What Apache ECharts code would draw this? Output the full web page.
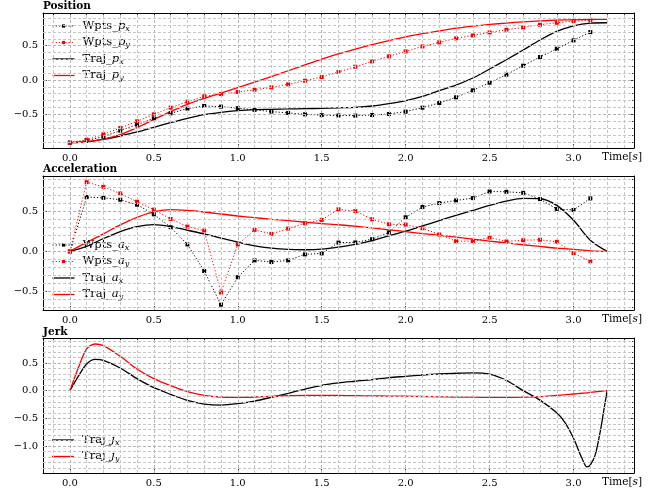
<!DOCTYPE html>
<html>
<head>
<meta charset="utf-8">
<script src="https://cdn.jsdelivr.net/npm/echarts@6/dist/echarts.min.js"></script>
<style>
  html, body { margin: 0; padding: 0; background: #fff; }
  #chart { width: 667px; height: 489px; }
</style>
</head>
<body>
<div id="chart"></div>
<script>
// waypoint times (s) and trajectory sample times
const tWpts = [0, 0.1, 0.2, 0.3, 0.4, 0.5, 0.6, 0.7, 0.8, 0.9, 1.0, 1.1, 1.2, 1.3, 1.4, 1.5,
  1.6, 1.7, 1.8, 1.9, 2.0, 2.1, 2.2, 2.3, 2.4, 2.5, 2.6, 2.7, 2.8, 2.9, 3.0, 3.1];
const tTraj = [0, 0.1, 0.2, 0.3, 0.4, 0.5, 0.6, 0.7, 0.8, 0.9, 1.0, 1.1, 1.2, 1.3, 1.4, 1.5,
  1.6, 1.7, 1.8, 1.9, 2.0, 2.1, 2.2, 2.3, 2.4, 2.5, 2.6, 2.7, 2.8, 2.9, 3.0, 3.1, 3.2];
const tJerk = [0, 0.05, 0.1, 0.15, 0.2, 0.3, 0.4, 0.5, 0.6, 0.7, 0.8, 0.9, 1.0, 1.1, 1.2, 1.3,
  1.4, 1.5, 1.6, 1.7, 1.8, 1.9, 2.0, 2.1, 2.2, 2.3, 2.4, 2.5, 2.6, 2.7, 2.8, 2.9, 2.95, 3.0,
  3.05, 3.08, 3.1, 3.13, 3.16, 3.18, 3.2];

// Position
const wptsPx = [-0.913, -0.883, -0.825, -0.738, -0.650, -0.558, -0.485, -0.417, -0.379, -0.388,
  -0.41, -0.435, -0.46, -0.48, -0.50, -0.512, -0.517, -0.519, -0.510, -0.495, -0.461, -0.403,
  -0.335, -0.252, -0.150, -0.039, 0.078, 0.209, 0.335, 0.456, 0.578, 0.699];
const wptsPy = [-0.913, -0.869, -0.791, -0.699, -0.602, -0.500, -0.403, -0.316, -0.238, -0.204,
  -0.175, -0.141, -0.107, -0.063, -0.010, 0.044, 0.117, 0.194, 0.272, 0.345, 0.417, 0.490,
  0.549, 0.607, 0.650, 0.694, 0.733, 0.767, 0.806, 0.835, 0.859, 0.869];
const trajPx = [-0.913, -0.903, -0.864, -0.816, -0.757, -0.689, -0.621, -0.558, -0.505, -0.471,
  -0.447, -0.432, -0.427, -0.422, -0.417, -0.413, -0.405, -0.398, -0.379, -0.345, -0.301,
  -0.238, -0.155, -0.073, 0.029, 0.160, 0.296, 0.437, 0.583, 0.709, 0.791, 0.830, 0.835];
const trajPy = [-0.913, -0.90, -0.862, -0.796, -0.694, -0.575, -0.46, -0.355, -0.268, -0.19,
  -0.11, -0.03, 0.05, 0.135, 0.22, 0.305, 0.38, 0.45, 0.515, 0.575, 0.63, 0.675, 0.715, 0.755,
  0.785, 0.81, 0.83, 0.848, 0.862, 0.872, 0.878, 0.882, 0.884];

// Acceleration
const wptsAx = [0, 0.678, 0.669, 0.645, 0.583, 0.463, 0.302, 0.087, -0.244, -0.665, -0.322,
  -0.112, -0.132, -0.112, -0.037, -0.025, 0.110, 0.112, 0.153, 0.236, 0.426, 0.554, 0.603,
  0.636, 0.665, 0.748, 0.744, 0.731, 0.653, 0.529, 0.517, 0.661];
const wptsAy = [0, 0.864, 0.806, 0.723, 0.620, 0.521, 0.405, 0.310, 0.260, -0.512, 0.087,
  0.269, 0.219, 0.285, 0.351, 0.393, 0.525, 0.504, 0.401, 0.339, 0.335, 0.289, 0.211, 0.128,
  0.128, 0.174, 0.124, 0.140, 0.145, 0.120, -0.021, -0.124];
const trajAx = [0, 0.062, 0.161, 0.248, 0.31, 0.335, 0.31, 0.264, 0.219, 0.165, 0.116, 0.07,
  0.041, 0.025, 0.021, 0.029, 0.054, 0.087, 0.136, 0.194, 0.252, 0.318, 0.384, 0.450, 0.512,
  0.574, 0.628, 0.661, 0.657, 0.574, 0.388, 0.14, 0];
const trajAy = [0, 0.112, 0.219, 0.331, 0.426, 0.492, 0.521, 0.512, 0.492, 0.467, 0.442, 0.421,
  0.401, 0.384, 0.364, 0.347, 0.333, 0.314, 0.293, 0.269, 0.248, 0.223, 0.202, 0.178, 0.153,
  0.128, 0.107, 0.083, 0.062, 0.041, 0.025, 0.008, 0];

// Jerk
const trajJx = [0, 0.259, 0.482, 0.566, 0.548, 0.41, 0.217, 0.054, -0.066, -0.175, -0.241,
  -0.259, -0.235, -0.187, -0.12, -0.048, 0.03, 0.096, 0.14, 0.17, 0.199, 0.235, 0.259, 0.283,
  0.301, 0.315, 0.322, 0.30, 0.187, 0.0, -0.17, -0.40, -0.58, -0.86, -1.22, -1.375, -1.34,
  -1.15, -0.72, -0.36, 0];
const trajJy = [0, 0.41, 0.753, 0.843, 0.813, 0.62, 0.392, 0.217, 0.09, -0.018, -0.084, -0.114,
  -0.12, -0.114, -0.102, -0.09, -0.084, -0.084, -0.086, -0.09, -0.094, -0.098, -0.10, -0.105,
  -0.11, -0.115, -0.118, -0.12, -0.12, -0.116, -0.108, -0.084, -0.073, -0.06, -0.046, -0.038,
  -0.03, -0.02, -0.01, -0.003, 0.005];

// axis ticks
const xMajor = [0, 0.5, 1.0, 1.5, 2.0, 2.5, 3.0];
const yMajorPos = [-0.5, 0, 0.5];
const yMajorAcc = [-0.5, 0, 0.5];
const yMajorJerk = [-1.0, -0.5, 0, 0.5];

const FONT = 'DejaVu Serif';
const X_MIN = -0.16, X_MAX = 3.36;

function minorsBetween(lo, hi, majors) {
  const out = [];
  for (let k = Math.ceil(lo * 10); k <= Math.floor(hi * 10); k++) {
    const v = k / 10;
    if (!majors.some(m => Math.abs(m - v) < 1e-6)) out.push(v);
  }
  return out;
}

function fmt(v) {
  return (v < 0 ? '\u2212' : '') + Math.abs(v).toFixed(1);
}

function tickStyle() { return { color: '#000', width: 0.8 }; }

function xAxesFor(g) {
  const minors = minorsBetween(X_MIN, X_MAX, xMajor);
  const base = () => ({
    type: 'value', gridIndex: g, min: X_MIN, max: X_MAX,
    axisLine: { show: true, onZero: false, lineStyle: { color: '#000', width: 1 } },
    axisLabel: { show: false }, splitLine: { show: false }
  });
  return [
    Object.assign(base(), {
      position: 'bottom',
      axisTick: { show: true, inside: true, length: 4, customValues: xMajor, lineStyle: tickStyle() },
      axisLabel: {
        show: true, customValues: xMajor, margin: 5, color: '#000',
        fontFamily: FONT, fontSize: 10, formatter: fmt
      },
      name: '{a|Time[}{b|s}{a|]}', nameLocation: 'end', nameGap: -12, nameMoveOverlap: false,
      nameTextStyle: {
        align: 'center', verticalAlign: 'top', padding: [4, 0, 0, 0],
        rich: {
          a: { fontFamily: FONT, fontSize: 10.5, color: '#000' },
          b: { fontFamily: FONT, fontSize: 10.5, fontStyle: 'italic', color: '#000' }
        }
      }
    }),
    Object.assign(base(), {
      position: 'bottom', axisLine: { show: false, onZero: false },
      axisTick: { show: true, inside: true, length: 2, customValues: minors, lineStyle: tickStyle() }
    }),
    Object.assign(base(), {
      position: 'top',
      axisTick: { show: true, inside: true, length: 4, customValues: xMajor, lineStyle: tickStyle() }
    }),
    Object.assign(base(), {
      position: 'top', axisLine: { show: false, onZero: false },
      axisTick: { show: true, inside: true, length: 2, customValues: minors, lineStyle: tickStyle() }
    })
  ];
}

function yAxesFor(g, lo, hi, majors) {
  const minors = minorsBetween(lo, hi, majors);
  const base = () => ({
    type: 'value', gridIndex: g, min: lo, max: hi,
    axisLine: { show: true, onZero: false, lineStyle: { color: '#000', width: 1 } },
    axisLabel: { show: false }, splitLine: { show: false }
  });
  return [
    Object.assign(base(), {
      position: 'left',
      axisTick: { show: true, inside: true, length: 4, customValues: majors, lineStyle: tickStyle() },
      axisLabel: {
        show: true, customValues: majors, margin: 5, color: '#000',
        fontFamily: FONT, fontSize: 10, formatter: fmt
      }
    }),
    Object.assign(base(), {
      position: 'left', axisLine: { show: false, onZero: false },
      axisTick: { show: true, inside: true, length: 2, customValues: minors, lineStyle: tickStyle() }
    }),
    Object.assign(base(), {
      position: 'right',
      axisTick: { show: true, inside: true, length: 4, customValues: majors, lineStyle: tickStyle() }
    }),
    Object.assign(base(), {
      position: 'right', axisLine: { show: false, onZero: false },
      axisTick: { show: true, inside: true, length: 2, customValues: minors, lineStyle: tickStyle() }
    })
  ];
}

// grid lines as a background mark-line layer, one per panel
function gridLines(g, lo, hi, yMajors) {
  const style = isMajor => ({ color: isMajor ? '#b4b4b4' : '#c6c6c6', width: 1, type: [3, 2] });
  const lines = [];
  minorsBetween(X_MIN, X_MAX, []).forEach(v => {
    lines.push({ xAxis: v, lineStyle: style(xMajor.some(m => Math.abs(m - v) < 1e-6)) });
  });
  minorsBetween(lo, hi, []).forEach(v => {
    lines.push({ yAxis: v, lineStyle: style(yMajors.some(m => Math.abs(m - v) < 1e-6)) });
  });
  return {
    type: 'line', xAxisIndex: g * 4, yAxisIndex: g * 4, data: [], z: 0, silent: true,
    markLine: {
      silent: true, animation: false, symbol: ['none', 'none'],
      label: { show: false },
      data: lines
    }
  };
}

function pairs(t, v) { return t.map((x, i) => [x, v[i]]); }

function wptsSeries(name, g, t, v, color) {
  return {
    name: name, type: 'line', xAxisIndex: g * 4, yAxisIndex: g * 4, data: pairs(t, v),
    symbol: 'rect', symbolSize: 4, showSymbol: true, z: 3,
    itemStyle: { color: color },
    lineStyle: { color: color, width: 1, type: [1.2, 2] }
  };
}
function trajSeries(name, g, t, v, color) {
  return {
    name: name, type: 'line', xAxisIndex: g * 4, yAxisIndex: g * 4, data: pairs(t, v),
    symbol: 'none', smooth: 0.3, z: 3,
    itemStyle: { color: color },
    lineStyle: { color: color, width: 1.3 }
  };
}

// legend labels with italic symbol and subscript
const legendLabels = {
  Wpts_px: ['Wpts_', 'p', 'x'], Wpts_py: ['Wpts_', 'p', 'y'],
  Traj_px: ['Traj_', 'p', 'x'], Traj_py: ['Traj_', 'p', 'y'],
  Wpts_ax: ['Wpts_', 'a', 'x'], Wpts_ay: ['Wpts_', 'a', 'y'],
  Traj_ax: ['Traj_', 'a', 'x'], Traj_ay: ['Traj_', 'a', 'y'],
  Traj_jx: ['Traj_', 'j', 'x'], Traj_jy: ['Traj_', 'j', 'y']
};
const legendRich = {
  n: { fontFamily: FONT, fontSize: 11.5, lineHeight: 13, color: '#000', padding: [0, 0, 0, 3] },
  i: { fontFamily: FONT, fontSize: 11.5, lineHeight: 13, fontStyle: 'italic', color: '#000' },
  s: { fontFamily: FONT, fontSize: 8, lineHeight: 8, fontStyle: 'italic', color: '#000', verticalAlign: 'bottom' }
};
// trajectory legend icon: a plain horizontal stroke (bounding box kept at 22 x 4)
const lineIcon = 'path://M0,0M22,4M0,1.35h22v1.3h-22z';
function legendFor(top, names) {
  return {
    orient: 'vertical', left: 52, top: top, padding: 0,
    itemWidth: 22, itemHeight: 4, itemGap: 4, selectedMode: false,
    lineStyle: { width: 'inherit' },
    data: names.map(n => n.indexOf('Traj') === 0 ? { name: n, icon: lineIcon } : { name: n }),
    formatter: n => { const p = legendLabels[n]; return '{n|' + p[0] + '}{i|' + p[1] + '}{s|' + p[2] + '}'; },
    textStyle: { rich: legendRich }
  };
}

function titleAt(text, top) {
  return {
    text: text, left: 43, top: top, padding: 0,
    textStyle: { fontFamily: FONT, fontWeight: 'bold', fontSize: 10.5, color: '#000' }
  };
}

const chart = echarts.init(document.getElementById('chart'), null, { renderer: 'canvas' });

const option = {
  animation: false,
  backgroundColor: '#fff',
  title: [titleAt('Position', 1), titleAt('Acceleration', 164), titleAt('Jerk', 327)],
  grid: [
    { left: 43, top: 13, width: 591, height: 135, outerBoundsMode: 'none' },
    { left: 43, top: 176, width: 591, height: 134, outerBoundsMode: 'none' },
    { left: 43, top: 338, width: 591, height: 135, outerBoundsMode: 'none' }
  ],
  xAxis: [].concat(xAxesFor(0), xAxesFor(1), xAxesFor(2)),
  yAxis: [].concat(
    yAxesFor(0, -0.991, 0.977, yMajorPos),
    yAxesFor(1, -0.731, 0.941, yMajorAcc),
    yAxesFor(2, -1.486, 0.951, yMajorJerk)
  ),
  legend: [
    legendFor(20, ['Wpts_px', 'Wpts_py', 'Traj_px', 'Traj_py']),
    legendFor(239, ['Wpts_ax', 'Wpts_ay', 'Traj_ax', 'Traj_ay']),
    legendFor(434, ['Traj_jx', 'Traj_jy'])
  ],
  series: [
    gridLines(0, -0.991, 0.977, yMajorPos),
    gridLines(1, -0.731, 0.941, yMajorAcc),
    gridLines(2, -1.486, 0.951, yMajorJerk),
    wptsSeries('Wpts_px', 0, tWpts, wptsPx, '#000000'),
    wptsSeries('Wpts_py', 0, tWpts, wptsPy, '#ff0000'),
    trajSeries('Traj_px', 0, tTraj, trajPx, '#000000'),
    trajSeries('Traj_py', 0, tTraj, trajPy, '#ff0000'),
    wptsSeries('Wpts_ax', 1, tWpts, wptsAx, '#000000'),
    wptsSeries('Wpts_ay', 1, tWpts, wptsAy, '#ff0000'),
    trajSeries('Traj_ax', 1, tTraj, trajAx, '#000000'),
    trajSeries('Traj_ay', 1, tTraj, trajAy, '#ff0000'),
    trajSeries('Traj_jx', 2, tJerk, trajJx, '#000000'),
    trajSeries('Traj_jy', 2, tJerk, trajJy, '#ff0000')
  ]
};

chart.setOption(option);
window.addEventListener('resize', () => { chart.resize(); });
</script>
</body>
</html>
